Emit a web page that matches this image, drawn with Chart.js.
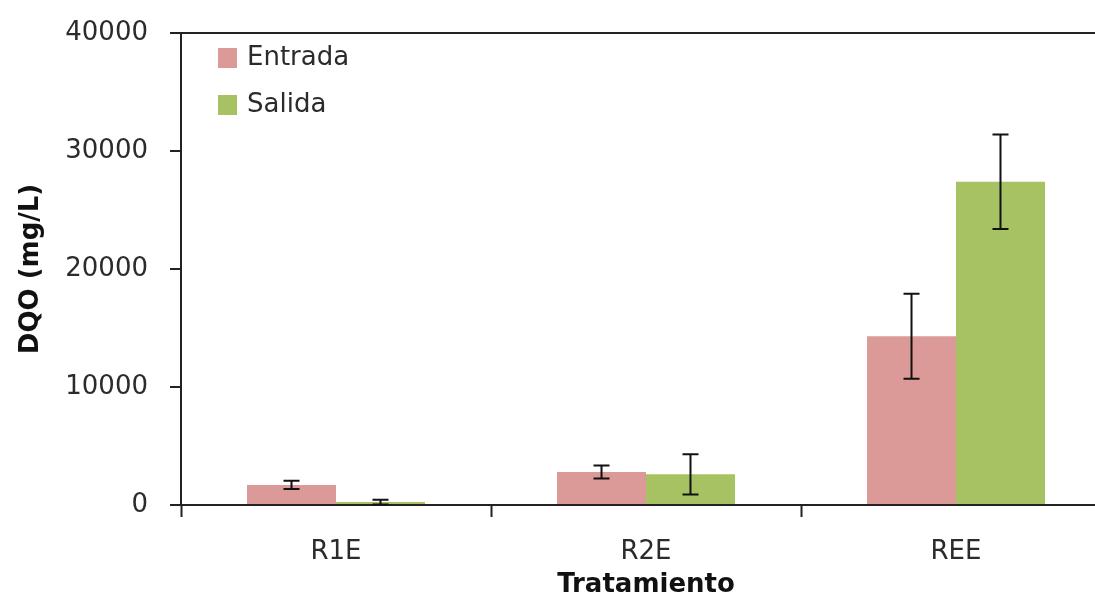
<!DOCTYPE html>
<html>
<head>
<meta charset="utf-8">
<script src="https://cdn.jsdelivr.net/npm/chart.js@4/dist/chart.umd.min.js"></script>
<style>
  html, body { margin: 0; padding: 0; background: #fff; overflow: hidden; }
  #wrap { width: 1111px; height: 598px; }
</style>
</head>
<body>
<div id="wrap"><canvas id="dqo-chart" width="1111" height="598"></canvas></div>
<script>
const categories = ["R1E", "R2E", "REE"];
const entrada = [1700, 2800, 14300];
const salida = [250, 2600, 27400];
const errEntrada = [350, 550, 3600];
const errSalida = [200, 1700, 4000];
const yTicks = [0, 10000, 20000, 30000, 40000];

const FONT = "'DejaVu Sans', sans-serif";
const TEXT = "#2b2b2b";
const AXIS = "#222";

// barras de error (desviación) dibujadas sobre las barras
const errorBars = {
  id: "errorBars",
  afterDatasetsDraw(chart) {
    const ctx = chart.ctx;
    const y = chart.scales.y;
    chart.data.datasets.forEach((ds, i) => {
      const meta = chart.getDatasetMeta(i);
      meta.data.forEach((bar, j) => {
        const v = ds.data[j];
        const e = ds.errors[j];
        const top = y.getPixelForValue(v + e);
        const bot = y.getPixelForValue(Math.max(0, v - e));
        ctx.save();
        ctx.strokeStyle = "#111";
        ctx.lineWidth = 2;
        ctx.beginPath();
        ctx.moveTo(bar.x, top);
        ctx.lineTo(bar.x, bot);
        ctx.moveTo(bar.x - 8, top);
        ctx.lineTo(bar.x + 8, top);
        ctx.moveTo(bar.x - 8, bot);
        ctx.lineTo(bar.x + 8, bot);
        ctx.stroke();
        ctx.restore();
      });
    });
  }
};

// leyenda dentro del área del gráfico
const innerLegend = {
  id: "innerLegend",
  afterDraw(chart) {
    const ctx = chart.ctx;
    const area = chart.chartArea;
    ctx.save();
    ctx.font = "26px " + FONT;
    ctx.textBaseline = "middle";
    chart.data.datasets.forEach((ds, i) => {
      const cy = area.top + 25 + i * 47;
      ctx.fillStyle = ds.backgroundColor;
      ctx.fillRect(area.left + 37, cy - 10, 19, 20);
      ctx.fillStyle = TEXT;
      ctx.fillText(ds.label, area.left + 66, cy);
    });
    ctx.restore();
  }
};

const ctx = document.getElementById("dqo-chart").getContext("2d");

const dqoChart = new Chart(ctx, {
  type: "bar",
  data: {
    labels: categories,
    datasets: [
      {
        label: "Entrada",
        data: entrada,
        errors: errEntrada,
        backgroundColor: "#DB9A98",
        borderWidth: 0
      },
      {
        label: "Salida",
        data: salida,
        errors: errSalida,
        backgroundColor: "#A6C262",
        borderWidth: 0
      }
    ]
  },
  options: {
    responsive: false,
    animation: false,
    layout: { padding: { top: 33, right: 0, bottom: 0, left: 0 } },
    datasets: {
      bar: { categoryPercentage: 0.574, barPercentage: 1 }
    },
    plugins: {
      legend: { display: false },
      tooltip: { enabled: false }
    },
    scales: {
      x: {
        grid: {
          offset: true,
          drawOnChartArea: false,
          tickLength: 12,
          tickColor: AXIS,
          tickWidth: 2
        },
        border: { color: AXIS, width: 2 },
        ticks: {
          color: TEXT,
          padding: 20,
          font: { family: FONT, size: 26 }
        },
        title: {
          display: true,
          text: "Tratamiento",
          color: "#111",
          padding: { top: 0, bottom: 0 },
          font: { family: FONT, size: 26, weight: "bold", lineHeight: 1 }
        },
        afterFit(scale) {
          scale.height = 93;
          scale.paddingLeft = 0;
          scale.paddingRight = 0;
        }
      },
      y: {
        min: 0,
        max: 40000,
        afterBuildTicks(scale) {
          scale.ticks = yTicks.map(v => ({ value: v }));
        },
        grid: {
          color: c => (c.tick && c.tick.value === 40000 ? AXIS : "transparent"),
          lineWidth: 2,
          tickLength: 11,
          tickColor: AXIS,
          tickWidth: 2
        },
        border: { color: AXIS, width: 2 },
        ticks: {
          color: TEXT,
          padding: 22,
          font: { family: FONT, size: 26 },
          callback: v => String(v)
        },
        title: {
          display: true,
          text: "DQO (mg/L)",
          color: "#111",
          padding: { top: 18, bottom: 0 },
          font: { family: FONT, size: 26, weight: "bold", lineHeight: 1 }
        },
        afterFit(scale) {
          scale.width = 181;
          scale.paddingTop = 0;
          scale.paddingBottom = 0;
        }
      }
    }
  },
  plugins: [errorBars, innerLegend]
});
</script>
</body>
</html>
